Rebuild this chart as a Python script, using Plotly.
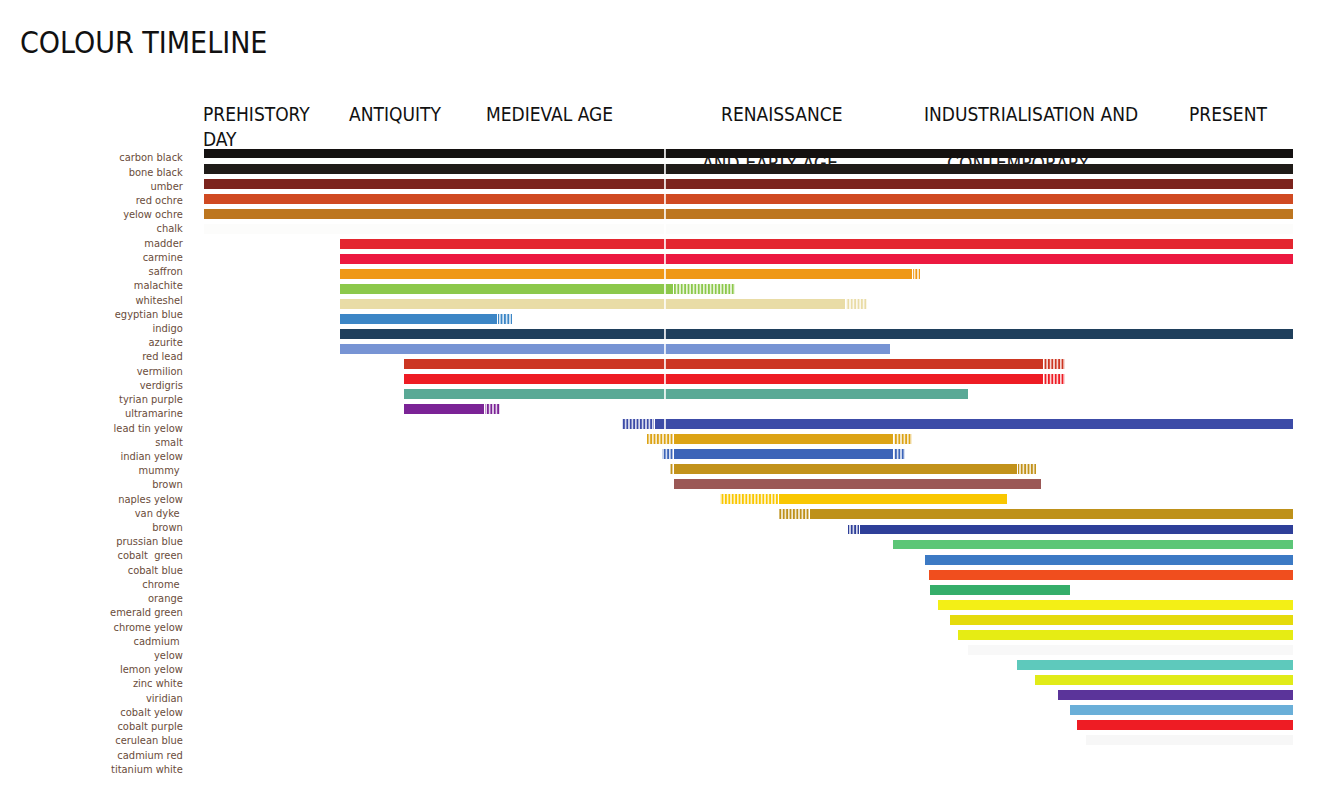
import plotly.graph_objects as go

# ---------------- data ----------------
colour_names = [
    "carbon black", "bone black", "umber", "red ochre", "yelow ochre", "chalk",
    "madder", "carmine", "saffron", "malachite", "whiteshel", "egyptian blue",
    "indigo", "azurite", "red lead", "vermilion", "verdigris", "tyrian purple",
    "ultramarine", "lead tin yelow", "smalt", "indian yelow", "mummy brown",
    "naples yelow", "van dyke brown", "prussian blue", "cobalt green", "cobalt blue",
    "chrome orange", "emerald green", "chrome yelow", "cadmium yelow", "lemon yelow",
    "zinc white", "viridian", "cobalt yelow", "cobalt purple", "cerulean blue",
    "cadmium red", "titanium white",
]
# label column as printed (some names wrap onto two lines)
label_lines = [
    "carbon black", "bone black", "umber", "red ochre", "yelow ochre", "chalk",
    "madder", "carmine", "saffron", "malachite", "whiteshel", "egyptian blue",
    "indigo", "azurite", "red lead", "vermilion", "verdigris", "tyrian purple",
    "ultramarine", "lead tin yelow", "smalt", "indian yelow", "mummy ", "brown",
    "naples yelow", "van dyke ", "brown", "prussian blue", "cobalt  green",
    "cobalt blue", "chrome ", "orange", "emerald green", "chrome yelow",
    "cadmium ", "yelow", "lemon yelow", "zinc white", "viridian", "cobalt yelow",
    "cobalt purple", "cerulean blue", "cadmium red", "titanium white",
]
bar_colours = [
    "#141110", "#1f1b18", "#7c241d", "#d04a22", "#bd761f", "#fcfcfb",
    "#e3262f", "#ec1940", "#ef9816", "#8cc84b", "#e9dca6", "#3c86c6",
    "#1f3f5c", "#7794d4", "#cc3622", "#ee1c24", "#5aa996", "#7b2396",
    "#3c4ba7", "#dca315", "#3c64b8", "#c2921b", "#9b5856",
    "#f9c700", "#be911a", "#2e3f99", "#5cc677", "#3c7ac4",
    "#f04e1e", "#35ae6a", "#f3ef16", "#e5db0c", "#e6ec14",
    "#f8f8f8", "#5ec9bc", "#e1eb18", "#5b349a", "#6aafd8",
    "#ee1c24", "#f7f7f7",
]
# timeline position (% of the timeline width): uncertain start, certain start,
# certain end, uncertain end
uncertain_start = [
    0, 0, 0, 0, 0, 0,
    12.49, 12.49, 12.49, 12.49, 12.49, 12.49,
    12.49, 12.49, 18.37, 18.37, 18.37, 18.37,
    38.38, 40.68, 42.06, 42.79, 43.16,
    47.38, 52.80, 59.14, 63.27, 66.21,
    66.57, 66.67, 67.40, 68.50, 69.24,
    70.16, 74.66, 76.31, 78.42, 79.52,
    80.17, 80.99,
]
certain_start = [
    0, 0, 0, 0, 0, 0,
    12.49, 12.49, 12.49, 12.49, 12.49, 12.49,
    12.49, 12.49, 18.37, 18.37, 18.37, 18.37,
    41.41, 43.16, 43.16, 43.16, 43.16,
    52.80, 55.65, 60.24, 63.27, 66.21,
    66.57, 66.67, 67.40, 68.50, 69.24,
    70.16, 74.66, 76.31, 78.42, 79.52,
    80.17, 80.99,
]
certain_end = [
    100, 100, 100, 100, 100, 100,
    100, 100, 65.01, 43.07, 58.86, 26.91,
    100, 62.99, 77.04, 77.04, 70.16, 25.71,
    100, 63.27, 63.27, 74.66, 76.86,
    73.74, 100, 100, 100, 100,
    100, 79.52, 100, 100, 100,
    100, 100, 100, 100, 100,
    100, 100,
]
uncertain_end = [
    100, 100, 100, 100, 100, 100,
    100, 100, 65.75, 48.76, 60.88, 28.28,
    100, 62.99, 79.06, 79.06, 70.16, 27.18,
    100, 65.01, 64.37, 76.40, 76.86,
    73.74, 100, 100, 100, 100,
    100, 79.52, 100, 100, 100,
    100, 100, 100, 100, 100,
    100, 100,
]
era_names = ["PREHISTORY", "ANTIQUITY", "MEDIEVAL AGE", "RENAISSANCE",
             "INDUSTRIALISATION AND", "PRESENT"]
era_positions = [0.0, 13.41, 25.99, 47.57, 66.21, 90.54]
era_second_lines = ["DAY", "AND EARLY AGE", "CONTEMPORARY"]
era_second_positions = [0.0, 51.97, 74.75]

# ---------------- layout constants ----------------
W, H = 1318, 801
PLOT_L, PLOT_R = 204, 1293
PLOT_T, PLOT_B = 145.5, 780
ROW_PX = 15.05
LABEL_PX = 14.23
LABEL_FIRST_PX = 157
FONT = "DejaVu Sans Condensed, Liberation Sans Narrow, sans-serif"

n = len(colour_names)
rows = list(range(n))

def paper_y(px):
    return (PLOT_B - px) / (PLOT_B - PLOT_T)

fig = go.Figure()

# solid (certain) segments
fig.add_trace(go.Bar(
    orientation="h",
    y=rows,
    base=certain_start,
    x=[e - s for s, e in zip(certain_start, certain_end)],
    width=0.66,
    marker=dict(color=bar_colours, line=dict(width=0)),
    customdata=colour_names,
    hovertemplate="%{customdata}<extra></extra>",
    showlegend=False,
))

# uncertain (hatched) segments
h_y, h_base, h_len, h_col, h_name = [], [], [], [], []
for i in rows:
    if uncertain_start[i] < certain_start[i]:
        h_y.append(i); h_base.append(uncertain_start[i])
        h_len.append(certain_start[i] - uncertain_start[i] - 0.1)
        h_col.append(bar_colours[i]); h_name.append(colour_names[i])
    if uncertain_end[i] > certain_end[i]:
        h_y.append(i); h_base.append(certain_end[i] + 0.1)
        h_len.append(uncertain_end[i] - certain_end[i] - 0.1)
        h_col.append(bar_colours[i]); h_name.append(colour_names[i])

fig.add_trace(go.Bar(
    orientation="h",
    y=h_y, base=h_base, x=h_len,
    width=0.66,
    marker=dict(
        color=h_col, line=dict(width=0),
        pattern=dict(shape="|", fgcolor=h_col, bgcolor="white",
                     size=3.4, solidity=0.6, fillmode="replace"),
    ),
    customdata=h_name,
    hovertemplate="%{customdata} (uncertain)<extra></extra>",
    showlegend=False,
))

# invisible trace to carry the label axis
fig.add_trace(go.Scatter(
    x=[50] * len(label_lines), y=list(range(len(label_lines))),
    yaxis="y2", mode="markers", marker=dict(opacity=0),
    hoverinfo="skip", showlegend=False,
))

shapes = []
# white vertical seam
shapes.append(dict(type="line", xref="x", yref="y", x0=42.33, x1=42.33,
                   y0=-0.36, y1=18.36, line=dict(color="white", width=1.6),
                   layer="above"))
# second header lines hidden behind the bars
for txt, xp in zip(era_second_lines[1:], era_second_positions[1:]):
    shapes.append(dict(type="rect", xref="x", yref="paper",
                       x0=xp - 8, x1=xp + 8,
                       y0=paper_y(162) - 0.02, y1=paper_y(162) + 0.02,
                       line=dict(width=0), fillcolor="rgba(0,0,0,0)",
                       layer="below",
                       label=dict(text=txt, textposition="middle center",
                                  font=dict(family=FONT, size=19, color="#222"))))

annotations = []
for txt, xp in zip(era_names, era_positions):
    annotations.append(dict(text=txt, x=xp, xref="x", y=paper_y(113), yref="paper",
                            xanchor="left", yanchor="middle", showarrow=False,
                            xshift=-3,
                            font=dict(family=FONT, size=19, color="#111")))
annotations.append(dict(text=era_second_lines[0], x=era_second_positions[0], xref="x",
                        y=paper_y(138), yref="paper", xanchor="left", yanchor="middle",
                        showarrow=False, xshift=-3,
                        font=dict(family=FONT, size=19, color="#111")))

lab_top = -(LABEL_FIRST_PX - PLOT_T) / LABEL_PX
lab_bot = lab_top + (PLOT_B - PLOT_T) / LABEL_PX
row_top = -0.5
row_bot = row_top + (PLOT_B - PLOT_T) / ROW_PX

fig.update_layout(
    width=W, height=H,
    margin=dict(l=PLOT_L, r=W - PLOT_R, t=PLOT_T, b=H - PLOT_B, pad=0),
    paper_bgcolor="white", plot_bgcolor="white",
    barmode="overlay",
    bargap=0,
    title=dict(text="COLOUR TIMELINE", x=20 / W, xanchor="left", xref="container",
               y=1 - 42 / H, yanchor="middle", yref="container",
               font=dict(family=FONT, size=30, color="#111")),
    xaxis=dict(range=[0, 100], visible=False, fixedrange=True),
    yaxis=dict(range=[row_bot, row_top], visible=False, fixedrange=True),
    yaxis2=dict(range=[lab_bot, lab_top], overlaying="y", side="left",
                tickmode="array", tickvals=list(range(len(label_lines))),
                ticktext=label_lines, showgrid=False, zeroline=False,
                showline=False, ticks="outside", ticklen=18,
                tickcolor="rgba(0,0,0,0)",
                tickfont=dict(family=FONT, size=11, color="#6a4c3a"),
                fixedrange=True),
    shapes=shapes,
    annotations=annotations,
    hovermode="closest",
)

fig.write_html("out.html")
